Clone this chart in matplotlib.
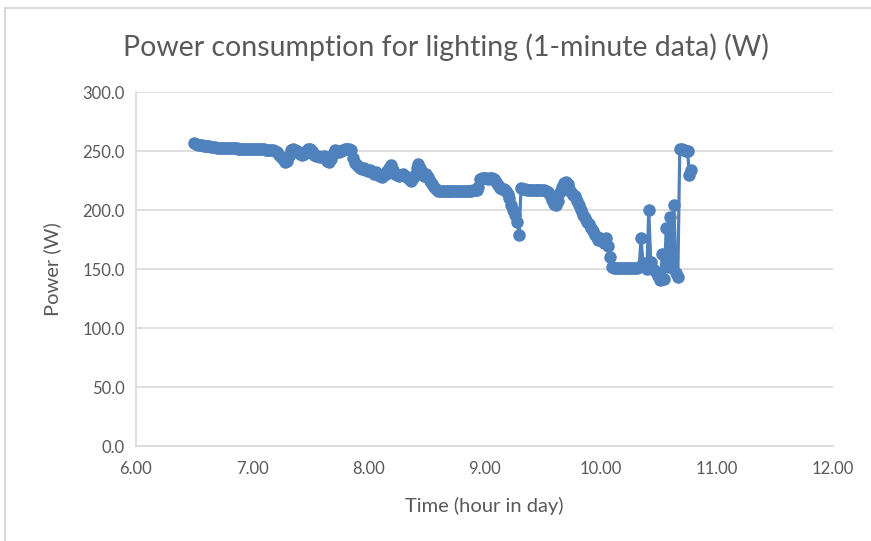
import numpy as np
import matplotlib.pyplot as plt
from matplotlib.lines import Line2D
from matplotlib.ticker import FormatStrFormatter

# ---- data --------------------------------------------------------------------
# 1-minute samples, first sample at minute 390 of the day (6:30)
start_minute = 390
power = [
    257, 256, 255.5, 255, 255, 254.5, 254.5, 254, 254, 253.5,        # 6.50
    253.5, 253.5, 253, 253, 253, 253, 253, 252.5, 252.5, 252.5,      # 6.67
    252.5, 252.5, 252.5, 252, 252, 252, 252, 252, 252, 252,          # 6.83
    252, 252, 251.5, 251.5, 251.5, 251.5, 251.5, 251, 251, 251,      # 7.00
    251, 251, 250.5, 249, 247, 245, 243, 241, 242, 246,              # 7.17
    251, 252, 251, 250, 249, 248, 247, 248, 250, 252,                # 7.33
    252, 250, 247, 246, 246, 245, 245, 246, 244, 242,                # 7.50
    241, 243, 248, 251, 250, 249, 250, 251, 252, 252,                # 7.67
    252, 251, 244, 240, 238, 237, 236, 235, 236, 234,                # 7.83
    233, 234, 232, 231, 232, 230, 229, 228, 230, 231,                # 8.00
    233, 236, 238, 234, 231, 230, 229, 230, 231, 229,                # 8.17
    228, 226, 225, 227, 230, 236, 239, 236, 232, 229,                # 8.33
    231, 228, 225, 222, 220, 218, 216, 216, 216, 216,                # 8.50
    216, 216, 216, 216, 216, 216, 216, 216, 216, 216,                # 8.67
    216, 216, 216, 216, 217, 217, 217, 220, 226, 227,                # 8.83
    227, 227, 226, 227, 227, 226, 224, 221, 219, 218,                # 9.00
    218, 216, 214, 210, 204, 200, 196, 190, 179, 219,                # 9.17
    218, 218, 217, 217, 217, 217, 217, 217, 217, 217,                # 9.33
    217, 217, 216, 215, 213, 209, 205, 204, 208, 215,                # 9.50
    220, 223, 224, 222, 218, 215, 213, 212, 208, 204,                # 9.67
    200, 196, 193, 190, 188, 185, 182, 179, 177, 175,                # 9.83
    176, 174, 172, 176, 170, 160, 152, 151, 151, 151,                # 10.00
    151, 151, 151, 151, 151, 151, 151, 151, 151, 151,                # 10.17
    152, 176, 155, 152, 150, 200, 156, 150, 148, 147,                # 10.33
    144, 141, 163, 142, 185, 152, 194, 155, 204, 147,                # 10.50
    143, 252, 252, 251, 250, 250, 230, 234,                          # 10.67
]
hours = (start_minute + np.arange(len(power))) / 60.0

x_ticks = [6, 7, 8, 9, 10, 11, 12]
y_ticks = [0, 50, 100, 150, 200, 250, 300]

blue = '#4F81BD'
grey_txt = '#595959'
grid_c = '#D9D9D9'

plt.rcParams['font.family'] = ['Lato', 'DejaVu Sans']

fig = plt.figure(figsize=(8.71, 5.41), dpi=100)
ax = fig.add_axes([0.156, 0.1756, 0.800, 0.654])

ax.plot(hours, power, color=blue, lw=2.3, marker='o', ms=8,
        markerfacecolor=blue, markeredgecolor=blue, zorder=3)

ax.set_xlim(6, 12)
ax.set_ylim(0, 300)
ax.set_xticks(x_ticks)
ax.set_yticks(y_ticks)
ax.xaxis.set_major_formatter(FormatStrFormatter('%.2f'))
ax.yaxis.set_major_formatter(FormatStrFormatter('%.1f'))
ax.tick_params(length=0, labelsize=12, labelcolor=grey_txt)
ax.tick_params(axis='x', pad=11)
ax.tick_params(axis='y', pad=8)

ax.grid(axis='y', color=grid_c, lw=1.2)
ax.set_axisbelow(True)
for s in ['top', 'right']:
    ax.spines[s].set_visible(False)
for s in ['left', 'bottom']:
    ax.spines[s].set_color(grid_c)
    ax.spines[s].set_linewidth(1.2)

ax.set_xlabel('Time (hour in day)', fontsize=14.5, color=grey_txt, labelpad=14)
ax.set_ylabel('Power (W)', fontsize=14.5, color=grey_txt, labelpad=15)
fig.text(0.512, 0.913, 'Power consumption for lighting (1-minute data) (W)',
         ha='center', va='center', fontsize=20.5, color=grey_txt)

# chart-area border (visible on the top and left edges only)
fig.add_artist(Line2D([0.006, 0.006], [0, 0.985], color=grid_c, lw=1.5))
fig.add_artist(Line2D([0.006, 1], [0.985, 0.985], color=grid_c, lw=1.5))

fig.savefig('out.png', dpi=100)
